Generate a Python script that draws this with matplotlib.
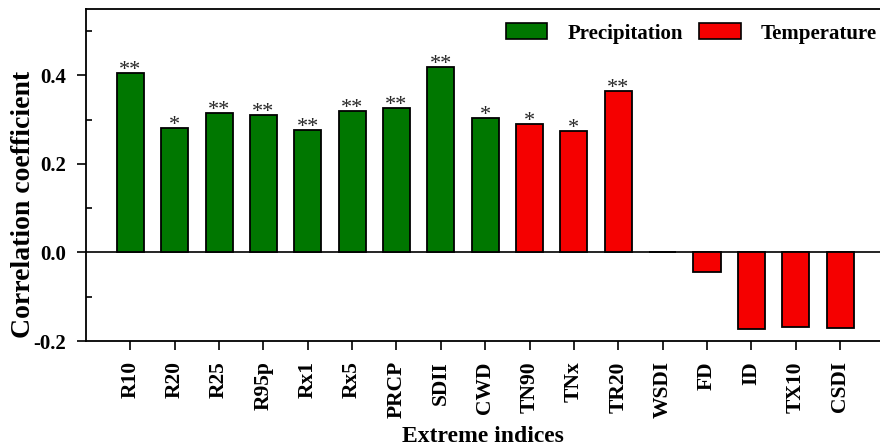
import matplotlib
matplotlib.use("Agg")
import matplotlib.pyplot as plt
from matplotlib.patches import Patch
from matplotlib.ticker import FixedLocator

categories = ["R10", "R20", "R25", "R95p", "Rx1", "Rx5", "PRCP", "SDII", "CWD",
              "TN90", "TNx", "TR20", "WSDI", "FD", "ID", "TX10", "CSDI"]
values = [0.405, 0.282, 0.316, 0.310, 0.276, 0.320, 0.327, 0.418, 0.303,
          0.290, 0.274, 0.364, 0.001, -0.044, -0.172, -0.168, -0.171]
groups = ["Precipitation"] * 9 + ["Temperature"] * 8
significance = ["**", "*", "**", "**", "**", "**", "**", "**", "*",
                "*", "*", "**", "", "", "", "", ""]
y_major = [-0.2, 0.0, 0.2, 0.4]
y_minor = [-0.1, 0.1, 0.3, 0.5]
y_labels = ["-0.2", "0.0", "0.2", "0.4"]

colors = {"Precipitation": "#007700", "Temperature": "#F50000"}

plt.rcParams["font.family"] = ["Liberation Serif", "DejaVu Serif"]

fig = plt.figure(figsize=(8.8, 4.48), dpi=100)
ax = fig.add_axes([0.0977, 0.2388, 0.9023, 0.7412])

x = list(range(len(categories)))
ax.bar(x, values, width=0.61, color=[colors[g] for g in groups],
       edgecolor="black", linewidth=1.3, zorder=3)

# significance markers sit right on top of each bar
for xi, v, s in zip(x, values, significance):
    if s:
        ax.annotate(s, xy=(xi, v), xytext=(0, -1.5), textcoords="offset points",
                    ha="center", va="baseline", fontsize=16,
                    color="#262626", zorder=4)

ax.axhline(0, color="black", linewidth=1.2, zorder=2)

ax.set_xlim(-1.0, 16.9)
ax.set_ylim(-0.2, 0.55)
ax.yaxis.set_major_locator(FixedLocator(y_major))
ax.yaxis.set_minor_locator(FixedLocator(y_minor))
ax.set_yticklabels(y_labels, fontsize=15, fontweight="bold")
ax.set_xticks(x)
ax.set_xticklabels(categories, rotation=90, fontsize=15.5, fontweight="bold")

ax.tick_params(axis="both", which="major", direction="out", length=6.5, width=1.2)
ax.tick_params(axis="y", which="minor", direction="in", length=4, width=1.2)
ax.tick_params(axis="x", pad=8)
ax.tick_params(axis="y", pad=8)

for side in ["left", "bottom", "top"]:
    ax.spines[side].set_linewidth(1.3)
ax.spines["right"].set_visible(False)

ax.set_ylabel("Correlation coefficient", fontsize=20, fontweight="bold")
ax.yaxis.set_label_coords(-0.0635, 0.41)
ax.set_xlabel("Extreme indices", fontsize=17, fontweight="bold")
ax.xaxis.set_label_coords(0.5, -0.257)

handles = [Patch(facecolor=colors["Precipitation"], edgecolor="black", linewidth=1.2),
           Patch(facecolor=colors["Temperature"], edgecolor="black", linewidth=1.2)]
leg = fig.legend(handles, ["Precipitation", "Temperature"], ncol=2, frameon=False,
                 loc="center right", bbox_to_anchor=(877 / 880, 1 - 33.5 / 448),
                 borderpad=0, borderaxespad=0,
                 prop={"size": 15, "weight": "bold"},
                 handlelength=2.0, handleheight=0.8, handletextpad=0.95,
                 columnspacing=0.8)

fig.savefig("out.png", dpi=100)
